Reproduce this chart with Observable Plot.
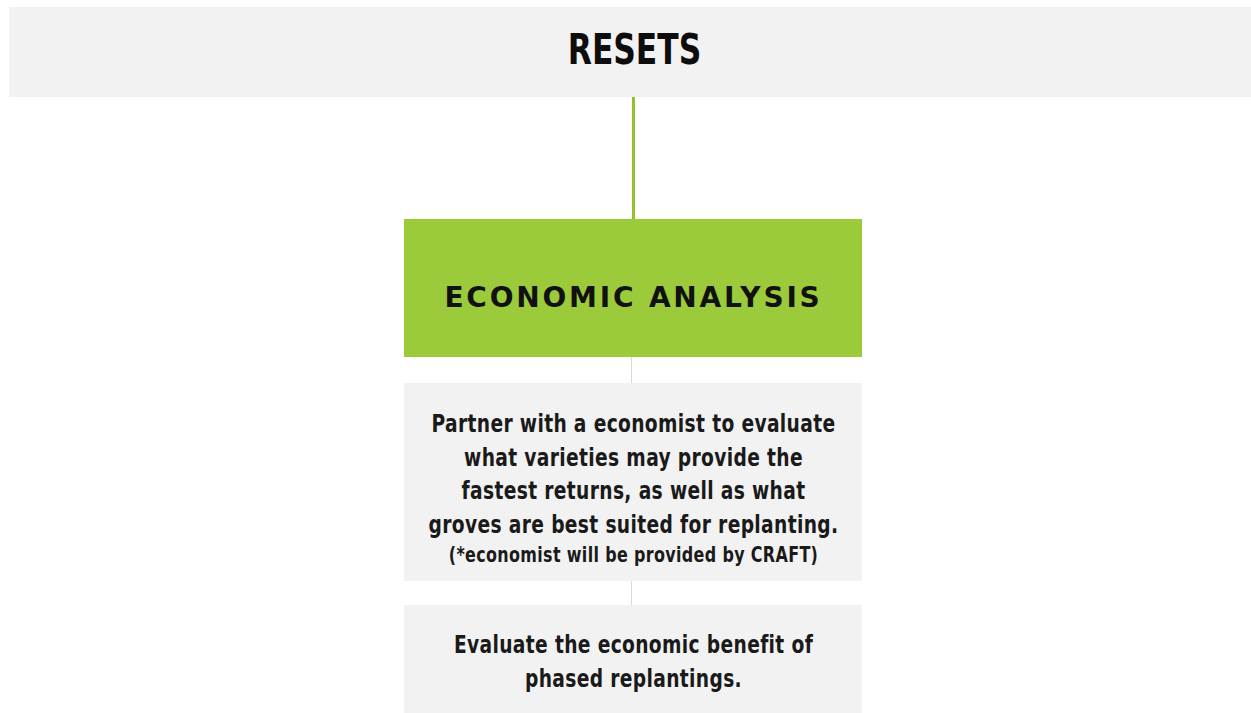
<!DOCTYPE html>
<html>
<head>
<meta charset="utf-8">
<script src="https://cdn.jsdelivr.net/npm/d3@7"></script>
<script src="https://cdn.jsdelivr.net/npm/@observablehq/plot@0.6"></script>
<style>
  html, body { margin: 0; padding: 0; background: #ffffff; }
  #chart svg { display: block; }
</style>
</head>
<body>
<div id="chart"></div>
<script>
// ---- content ----
const headerTitle = "RESETS";
const stageTitle = "ECONOMIC ANALYSIS";
const detailLines = [
  ["Partner with a economist to evaluate", "what varieties may provide the", "fastest returns, as well as what", "groves are best suited for replanting."],
  ["Evaluate the economic benefit of", "phased replantings."]
];
const detailNotes = [["(*economist will be provided by CRAFT)"], []];

// ---- layout (code constants) ----
const W = 1251, H = 713;
const header = {x1: 9, x2: W, y1: 7, y2: 97};
const col = {x1: 404, x2: 862};
const stage = {y1: 219, y2: 357};
const boxY = [{y1: 383, y2: 581}, {y1: 605, y2: 720}];
const lineGap = 33.5;
const firstLine = [424, 645];

const rects = [
  {...header, fill: "#f2f2f2"},
  {x1: col.x1, x2: col.x2, ...stage, fill: "#9bcb3b"},
  ...boxY.map(b => ({x1: col.x1, x2: col.x2, ...b, fill: "#f2f2f2"}))
];
const cx = (col.x1 + col.x2) / 2;
const connectors = [
  {x: 633, y1: header.y2, y2: stage.y1, stroke: "#93c229", w: 3},
  {x: 631, y1: stage.y2, y2: boxY[0].y1, stroke: "#d9d9d9", w: 1},
  {x: 631, y1: boxY[0].y2, y2: boxY[1].y1, stroke: "#d9d9d9", w: 1}
];
const textRows = [];
detailLines.forEach((lines, i) => {
  lines.forEach((t, j) => textRows.push({x: cx, y: firstLine[i] + j * lineGap, t, size: 24}));
  detailNotes[i].forEach((t, j) => textRows.push({x: cx, y: firstLine[i] + lines.length * lineGap - 3 + j * lineGap, t, size: 20.5}));
});

const narrow = "'Liberation Sans Narrow', 'DejaVu Sans Condensed', sans-serif";

const plot = Plot.plot({
  width: W, height: H,
  margin: 0,
  x: {domain: [0, W], range: [0, W], axis: null},
  y: {domain: [0, H], range: [0, H], axis: null},
  style: {background: "#ffffff"},
  marks: [
    Plot.rect(rects, {x1: "x1", x2: "x2", y1: "y1", y2: "y2", fill: d => d.fill}),
    Plot.ruleX(connectors, {x: "x", y1: "y1", y2: "y2", stroke: d => d.stroke, strokeWidth: d => d.w}),
    Plot.text([headerTitle], {x: 634, y: 50, text: d => d, fontSize: 42, fontWeight: "bold", fontFamily: narrow, fill: "#0d0d0d", textAnchor: "middle", className: "sq-head"}),
    Plot.text([stageTitle], {x: cx, y: 298, text: d => d, fontSize: 28, fontWeight: "bold", fontFamily: "'DejaVu Sans', sans-serif", fill: "#111", textAnchor: "middle", className: "sq-stage"}),
    Plot.text(textRows, {x: "x", y: "y", text: "t", fontSize: d => d.size, fontWeight: "bold", fontFamily: narrow, fill: "#1a1a1a", textAnchor: "middle", className: "sq-body"})
  ]
});
function squeeze(sel, s, spacing) {
  plot.querySelectorAll(sel + " text").forEach(n => {
    const tr = n.getAttribute("transform") || "";
    n.setAttribute("transform", tr + ` scale(${s},1)`);
    if (n.hasAttribute("x")) n.setAttribute("x", +n.getAttribute("x") / s);
    if (spacing) n.setAttribute("letter-spacing", spacing);
  });
}
squeeze(".sq-head", 0.83);
squeeze(".sq-stage", 1, 2.8);
squeeze(".sq-body", 0.865, 0.4);
document.getElementById("chart").appendChild(plot);
</script>
</body>
</html>
